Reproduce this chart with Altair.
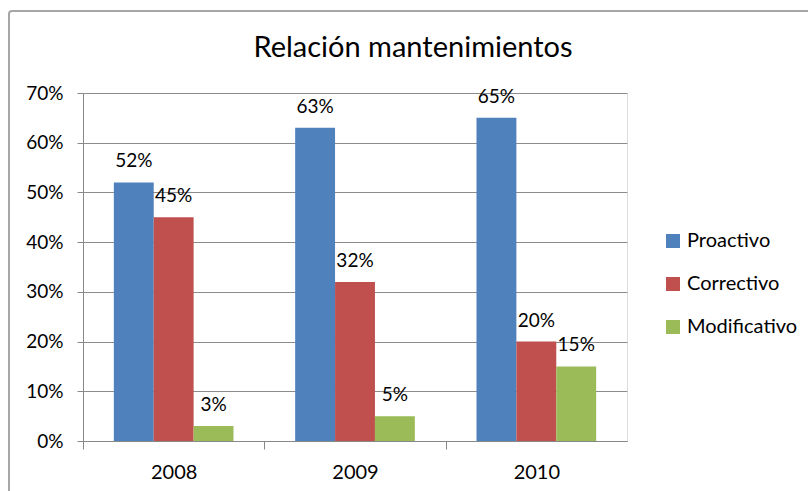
import altair as alt
import pandas as pd

years = ["2008", "2009", "2010"]
series = ["Proactivo", "Correctivo", "Modificativo"]
proactivo = [0.52, 0.63, 0.65]
correctivo = [0.45, 0.32, 0.20]
modificativo = [0.03, 0.05, 0.15]
colors = ["#4F81BD", "#C0504D", "#9BBB59"]
y_ticks = [0, 0.1, 0.2, 0.3, 0.4, 0.5, 0.6, 0.7]

rows = []
for i, yr in enumerate(years):
    for s, vals in zip(series, [proactivo, correctivo, modificativo]):
        rows.append({"Año": yr, "Serie": s, "Valor": vals[i]})
df = pd.DataFrame(rows)

W, H = 544, 348
FONT = "Lato"
step = W / 3

base = alt.Chart(df).encode(
    x=alt.X(
        "Año:N",
        sort=years,
        title=None,
        scale=alt.Scale(paddingInner=0.34, paddingOuter=0.17),
        axis=alt.Axis(
            labelAngle=0,
            labelFontSize=20,
            labelFont=FONT,
            labelColor="#000000",
            labelPadding=13,
            tickOffset=-step / 2,
            labelOffset=step / 2,
            tickSize=8,
            tickColor="#888888",
            domainColor="#888888",
            grid=False,
        ),
    ),
    xOffset=alt.XOffset("Serie:N", sort=series, scale=alt.Scale(paddingInner=0, paddingOuter=0)),
    y=alt.Y(
        "Valor:Q",
        title=None,
        scale=alt.Scale(domain=[0, 0.7], nice=False),
        axis=alt.Axis(
            values=y_ticks,
            format=".0%",
            labelFontSize=19,
            labelFont=FONT,
            labelColor="#000000",
            labelPadding=14,
            tickSize=6,
            tickColor="#888888",
            domainColor="#888888",
            gridColor="#8c8c8c",
            gridWidth=1,
        ),
    ),
)

bars = base.mark_bar().encode(
    color=alt.Color(
        "Serie:N",
        sort=series,
        scale=alt.Scale(domain=series, range=colors),
        legend=alt.Legend(
            title=None,
            orient="none",
            legendX=580,
            legendY=138,
            symbolType="square",
            symbolSize=196,
            symbolStrokeWidth=0,
            labelFontSize=20,
            labelFont=FONT,
            labelColor="#000000",
            rowPadding=23,
            labelOffset=4,
        ),
    )
)

labels = base.mark_text(dy=-21, fontSize=19, font=FONT, color="#000000").encode(
    text=alt.Text("Valor:Q", format=".0%")
)

frame = alt.Chart(pd.DataFrame({"k": [0]})).mark_rect(
    fill="transparent", stroke="#a6a6a6", strokeWidth=2, cornerRadius=3
).encode(
    x=alt.value(-74), x2=alt.value(740), y=alt.value(-82), y2=alt.value(430)
)

chart = (
    alt.layer(frame, bars, labels)
    .properties(
        width=W,
        height=H,
        padding={"left": 83, "top": 93, "right": 181, "bottom": 50},
        autosize=alt.AutoSizeParams(type="none"),
        title=alt.TitleParams(
            "Relación mantenimientos",
            fontSize=29,
            font=FONT,
            fontWeight="normal",
            color="#000000",
            anchor="middle",
            dx=58,
            offset=-53,
        ),
    )
    .configure_view(stroke=None)
    .configure(background="white")
)

chart.save("out.html", embed_options={"renderer": "svg", "actions": False})
